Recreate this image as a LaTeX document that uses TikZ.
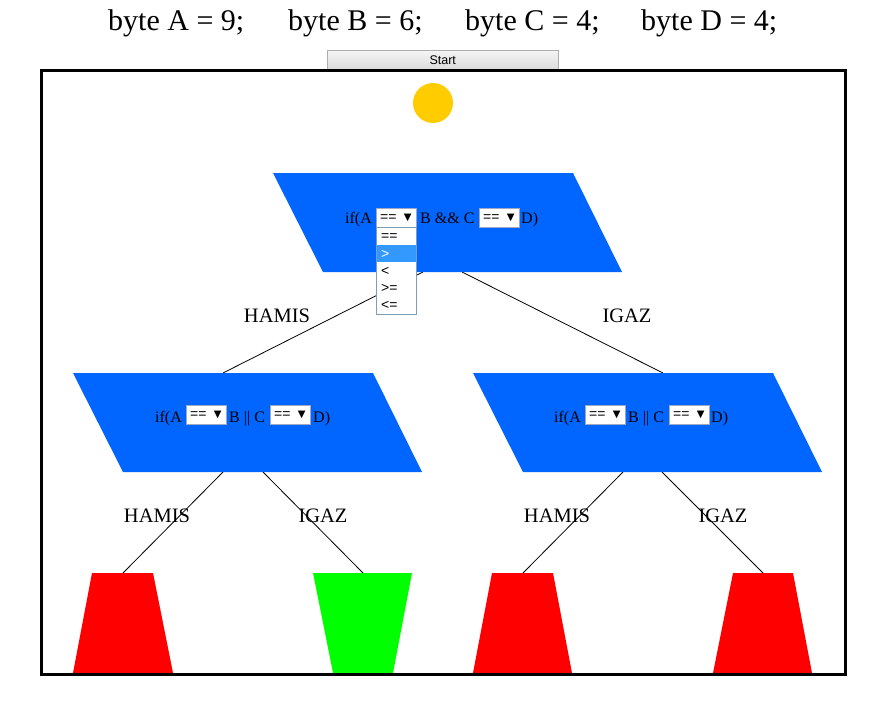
\documentclass[tikz,border=0pt]{standalone}
\usepackage{fontspec}
\setmainfont{Liberation Serif}
\newfontfamily\arialf{Liberation Sans}
\newfontfamily\dejavuf{DejaVu Sans}
\usetikzlibrary{calc}
\definecolor{flowblue}{HTML}{0066FF}
\definecolor{sunyellow}{HTML}{FFCC00}
\definecolor{selborder}{HTML}{A0A8C0}
\definecolor{listborder}{HTML}{7F9DB9}
\definecolor{hilite}{HTML}{3399FF}
\definecolor{btnborder}{HTML}{ADADAD}
\tikzset{
  title/.style={font=\fontsize{30}{30}\selectfont, anchor=base west, inner sep=0},
  cond/.style={font=\fontsize{16}{16}\selectfont, anchor=base west, inner sep=0},
  lbl/.style={font=\fontsize{20.5}{20.5}\selectfont, inner sep=0},
  selbox/.style={draw=selborder, fill=white, line width=0.8pt, minimum width=40pt, minimum height=19pt, inner sep=0, anchor=north west},
  seltxt/.style={font=\arialf\fontsize{14}{14}\selectfont, inner sep=0, anchor=west},
  selarrow/.style={font=\dejavuf\fontsize{10}{10}\selectfont, inner sep=0},
  item/.style={font=\arialf\fontsize{14}{14}\selectfont, inner sep=0, anchor=west},
  edge/.style={line width=0.8pt, black},
}
\newcommand{\SelectBox}[3]{%
  \node[selbox] (#1) at (#2,#3) {};
  \node[seltxt] (#1-t) at ($(#1.west)+(4,0.5)$) {==};
  \node[selarrow] (#1-a) at ($(#1.east)+(-9,0)$) {▼};
}
\begin{document}
\begin{tikzpicture}[x=1pt,y=-1pt]
\useasboundingbox (0,0) rectangle (875,706);
\fill[white] (0,0) rectangle (875,706);

% title
\node[title] (ta) at (108,31) {byte A = 9;};
\node[title] (tb) at (288,31) {byte B = 6;};
\node[title] (tc) at (465,31) {byte C = 4;};
\node[title] (td) at (641,31) {byte D = 4;};

% start button
\node[draw=btnborder, top color=white!96!black, bottom color=white!86!black, minimum width=231pt, minimum height=19pt, inner sep=0, anchor=north west, font=\arialf\fontsize{12.5}{12.5}\selectfont] (start) at (327,50) {Start};

% frame
\draw[line width=3pt] (41,71) rectangle (845,674);

% sun
\fill[sunyellow] (433,103) circle (20);

% connector endpoints
\coordinate (top-l) at (423,272);
\coordinate (top-r) at (462,272);
\coordinate (lp-t) at (223,373);
\coordinate (rp-t) at (663,373);
\coordinate (lp-l) at (223,472);
\coordinate (lp-r) at (263,472);
\coordinate (rp-l) at (623,472);
\coordinate (rp-r) at (662,472);
\coordinate (b1) at (123,573);
\coordinate (b2) at (363,573);
\coordinate (b3) at (523,573);
\coordinate (b4) at (763,573);

\draw[edge] (top-l) -- (lp-t);
\draw[edge] (top-r) -- (rp-t);
\draw[edge] (lp-l) -- (b1);
\draw[edge] (lp-r) -- (b2);
\draw[edge] (rp-l) -- (b3);
\draw[edge] (rp-r) -- (b4);

% parallelograms
\fill[flowblue] (273,173) -- (573,173) -- (622,272) -- (323,272) -- cycle;
\fill[flowblue] (73,373) -- (373,373) -- (422,472) -- (123,472) -- cycle;
\fill[flowblue] (473,373) -- (773,373) -- (822,472) -- (523,472) -- cycle;

% leaves
\fill[red] (92,573) -- (153,573) -- (173,673) -- (73,673) -- cycle;
\fill[green] (313,573) -- (412,573) -- (393,673) -- (333,673) -- cycle;
\fill[red] (492,573) -- (553,573) -- (572,673) -- (473,673) -- cycle;
\fill[red] (733,573) -- (793,573) -- (812,673) -- (713,673) -- cycle;
\draw[line width=3pt] (41,674) -- (845,674);

% labels
\node[lbl] (l1) at (277,316) {HAMIS};
\node[lbl] (l2) at (627,316) {IGAZ};
\node[lbl] (l3) at (157,516) {HAMIS};
\node[lbl] (l4) at (323,516) {IGAZ};
\node[lbl] (l5) at (557,516) {HAMIS};
\node[lbl] (l6) at (723,516) {IGAZ};

% top condition
\node[cond] (c1a) at (345,223) {if(A};
\SelectBox{s1}{376}{208}
\node[cond] (c1b) at (420,223) {B \&\& C};
\SelectBox{s2}{479}{208}
\node[cond] (c1c) at (521,223) {D)};

% left condition
\node[cond] (c2a) at (155,422) {if(A};
\SelectBox{s3}{186}{405}
\node[cond] (c2b) at (229,422) {B || C};
\SelectBox{s4}{270}{405}
\node[cond] (c2c) at (313,422) {D)};

% right condition
\node[cond] (c3a) at (554,422) {if(A};
\SelectBox{s5}{585}{405}
\node[cond] (c3b) at (628,422) {B || C};
\SelectBox{s6}{669}{405}
\node[cond] (c3c) at (711,422) {D)};

% dropdown list
\node[draw=listborder, fill=white, line width=0.8pt, minimum width=40pt, minimum height=87pt, inner sep=0, anchor=north west] (list) at (376,227) {};
\fill[hilite] (376.5,245) rectangle (415.5,262);
\node[item] (i1) at (381,237) {==};
\node[item, text=white] (i2) at (381,254) {>};
\node[item] (i3) at (381,271) {<};
\node[item] (i4) at (381,288) {>=};
\node[item] (i5) at (381,305) {<=};
\end{tikzpicture}
\end{document}
